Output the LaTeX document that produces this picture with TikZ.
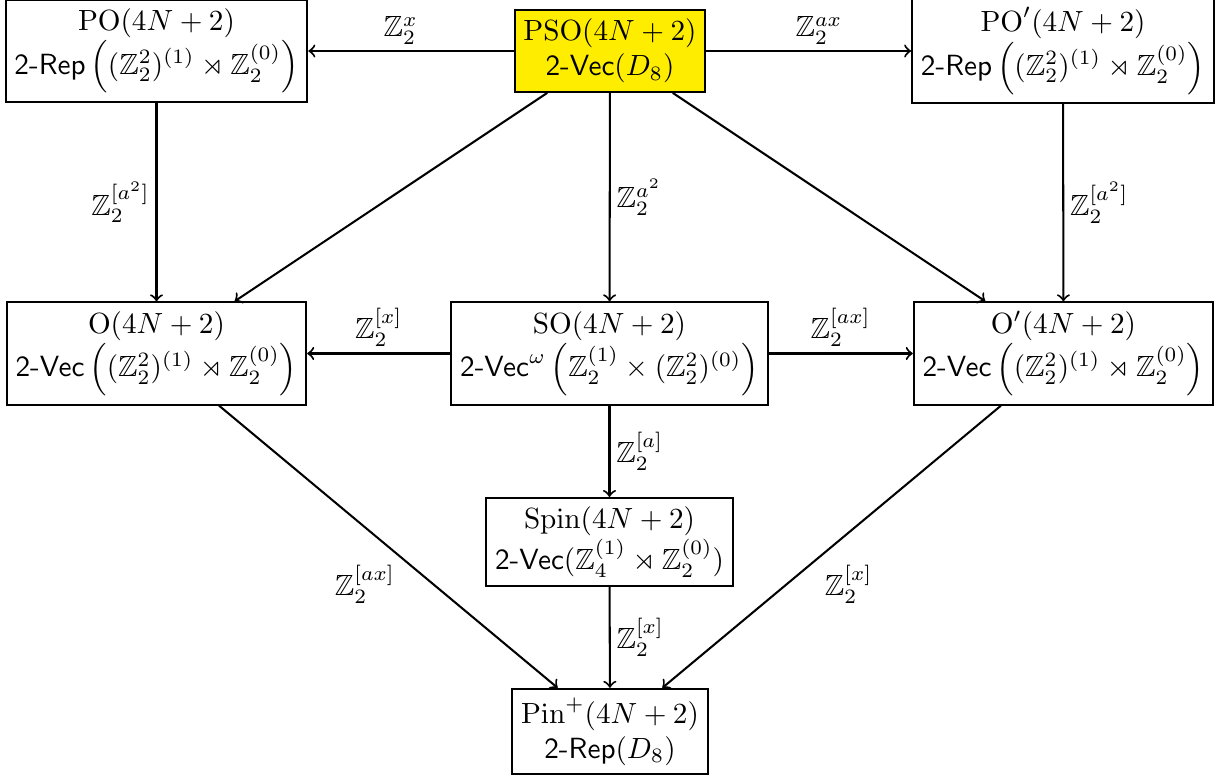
\documentclass[tikz,border=0pt]{standalone}
\usepackage{amsmath,amssymb}
\definecolor{psoyellow}{RGB}{255,237,0}
\begin{document}
\begin{tikzpicture}[x=0.3425pt,y=-0.3425pt,
  box/.style={draw,line width=0.7pt,align=center,inner sep=3pt},
  arr/.style={->,line width=0.7pt},
  lab/.style={inner sep=2pt}]
\useasboundingbox (0,0) rectangle (1220,780);
\node[box] (PO) at (156.5,51) {$\mathrm{PO}(4N+2)$\\ $\textsf{2-Rep}\left((\mathbb{Z}_2^2)^{(1)}\rtimes\mathbb{Z}_2^{(0)}\right)$};
\node[box,fill=psoyellow] (PSO) at (610,51) {$\mathrm{PSO}(4N+2)$\\ $\textsf{2-Vec}(D_8)$};
\node[box] (POp) at (1063,51) {$\mathrm{PO}'(4N+2)$\\ $\textsf{2-Rep}\left((\mathbb{Z}_2^2)^{(1)}\rtimes\mathbb{Z}_2^{(0)}\right)$};
\node[box] (O) at (156.5,353.5) {$\mathrm{O}(4N+2)$\\ $\textsf{2-Vec}\left((\mathbb{Z}_2^2)^{(1)}\rtimes\mathbb{Z}_2^{(0)}\right)$};
\node[box] (SO) at (609.5,353.5) {$\mathrm{SO}(4N+2)$\\ $\textsf{2-Vec}^{\omega}\left(\mathbb{Z}_2^{(1)}\times(\mathbb{Z}_2^2)^{(0)}\right)$};
\node[box] (Op) at (1063.5,353.5) {$\mathrm{O}'(4N+2)$\\ $\textsf{2-Vec}\left((\mathbb{Z}_2^2)^{(1)}\rtimes\mathbb{Z}_2^{(0)}\right)$};
\node[box] (Spin) at (609.5,542) {$\mathrm{Spin}(4N+2)$\\ $\textsf{2-Vec}(\mathbb{Z}_4^{(1)}\rtimes\mathbb{Z}_2^{(0)})$};
\node[box] (Pin) at (610,731.5) {$\mathrm{Pin}^+(4N+2)$\\ $\textsf{2-Rep}(D_8)$};

\draw[arr] (PSO) -- node[lab,pos=0.55,above] {$\mathbb{Z}_2^{x}$} (PO);
\draw[arr] (PSO) -- node[lab,pos=0.55,above] {$\mathbb{Z}_2^{ax}$} (POp);
\draw[arr] (PO) -- node[lab,left] {$\mathbb{Z}_2^{[a^2]}$} (O);
\draw[arr] (POp) -- node[lab,right] {$\mathbb{Z}_2^{[a^2]}$} (Op);
\draw[arr] (PSO) -- (O);
\draw[arr] (PSO) -- node[lab,right] {$\mathbb{Z}_2^{a^2}$} (SO);
\draw[arr] (PSO) -- (Op);
\draw[arr] (SO) -- node[lab,above] {$\mathbb{Z}_2^{[x]}$} (O);
\draw[arr] (SO) -- node[lab,above] {$\mathbb{Z}_2^{[ax]}$} (Op);
\draw[arr] (SO) -- node[lab,right] {$\mathbb{Z}_2^{[a]}$} (Spin);
\draw[arr] (O) -- node[lab,pos=0.54,below left] {$\mathbb{Z}_2^{[ax]}$} (Pin);
\draw[arr] (Spin) -- node[lab,right] {$\mathbb{Z}_2^{[x]}$} (Pin);
\draw[arr] (Op) -- node[lab,pos=0.54,below right] {$\mathbb{Z}_2^{[x]}$} (Pin);
\end{tikzpicture}
\end{document}
